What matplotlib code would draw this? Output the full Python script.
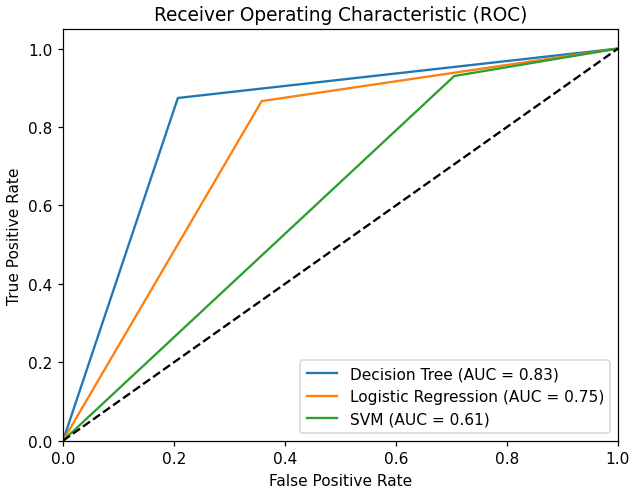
import numpy as np
import matplotlib
matplotlib.use("Agg")
import matplotlib.pyplot as plt

# ROC 曲线的点
models = ["Decision Tree", "Logistic Regression", "SVM"]
aucs = [0.83, 0.75, 0.61]
fpr_list = [[0.0, 0.207, 1.0],
            [0.0, 0.358, 1.0],
            [0.0, 0.705, 1.0]]
tpr_list = [[0.0, 0.874, 1.0],
            [0.0, 0.866, 1.0],
            [0.0, 0.930, 1.0]]

DPI = 111
fig = plt.figure(figsize=(633 / DPI, 491 / DPI), dpi=DPI)
ax = fig.add_axes([0.0995, 0.1004, 0.8768, 0.8386])

for name, auc, fpr, tpr in zip(models, aucs, fpr_list, tpr_list):
    ax.plot(fpr, tpr, label=f"{name} (AUC = {auc:.2f})")

ax.plot([0, 1], [0, 1], "k--")
ax.set_xlim([0.0, 1.0])
ax.set_ylim([0.0, 1.05])
ax.set_xlabel("False Positive Rate")
ax.set_ylabel("True Positive Rate")
ax.set_title("Receiver Operating Characteristic (ROC)")
ax.legend(loc="lower right")

fig.savefig("out.png", dpi=DPI)
